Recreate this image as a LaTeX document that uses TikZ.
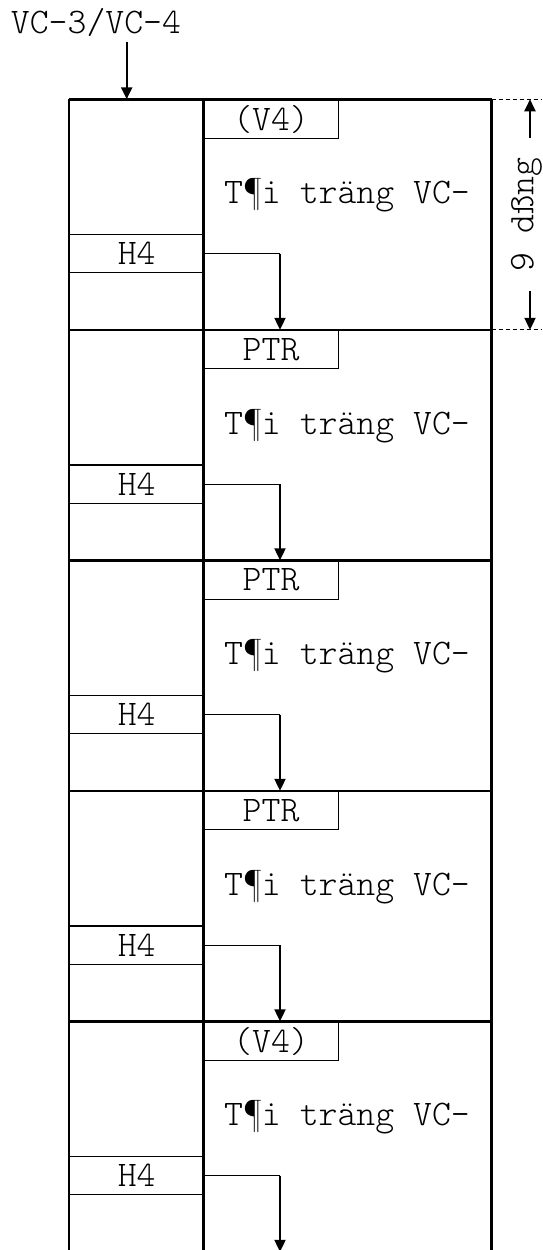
\documentclass[tikz,border=0pt]{standalone}
\usepackage{fontspec}
\newfontfamily\monof{lmmonolt10-regular.otf}
\usetikzlibrary{arrows.meta}
\begin{document}
\begin{tikzpicture}[x=1pt,y=1pt,
  font=\monof\fontsize{36}{42}\selectfont,
  thickline/.style={line width=2.5pt},
  thinline/.style={line width=1.1pt},
  arr/.style={line width=2.2pt,-{Triangle[length=12pt,width=11pt]}},
  hbox/.style={draw,thinline,minimum width=134.3pt,minimum height=38.4pt,inner sep=0pt,anchor=north west},
  pbox/.style={draw,thinline,minimum width=134.4pt,minimum height=38.4pt,inner sep=0pt,anchor=north west},
  dimline/.style={line width=1pt,dash pattern=on 4pt off 3pt}]
\useasboundingbox (0,0) rectangle (542,1250);
\foreach \k/\lab in {0/{(V4)},1/PTR,2/PTR,3/PTR,4/{(V4)}}{
  \pgfmathsetmacro\t{1150.7-230.5*\k}
  \pgfmathsetmacro\n{\t-230.5}
  \draw[thickline] (69,\t) -- (491.7,\t);
  \node[hbox] (h\k) at (69,\t-134.7) {H4};
  \node[pbox] (p\k) at (203.3,\t) {\lab};
  \node (load\k) at (347,\t-96) {T¶i träng VC-};
  \coordinate (e\k) at (280,\n);
  \coordinate (c\k) at (h\k.east -| e\k);
  \draw[thinline] (h\k.east) -- (c\k);
  \draw[arr] (c\k) -- (e\k);
}
\draw[thickline] (69,1150.7) -- (69,-5);
\draw[thickline] (203.3,1150.7) -- (203.3,-5);
\draw[thickline] (491.7,1150.7) -- (491.7,-5);
% top input
\node (title) at (96,1227.5) {VC-3/VC-4};
\coordinate (in) at (126.7,1208);
\coordinate (intop) at (126.7,1150.7);
\draw[arr] (in) -- (intop);
% dimension
\coordinate (dt) at (530,1150.7);
\coordinate (db) at (530,920.2);
\draw[dimline] (491.7,1150.7) -- (542,1150.7);
\draw[dimline] (491.7,920.2) -- (542,920.2);
\node[rotate=90,inner xsep=20pt,inner ysep=0pt] (dim) at (526.5,1035.5) {9 dßng};
\draw[arr] (dim.east -| dt) -- (dt);
\draw[arr] (dim.west -| db) -- (db);
\end{tikzpicture}
\end{document}
